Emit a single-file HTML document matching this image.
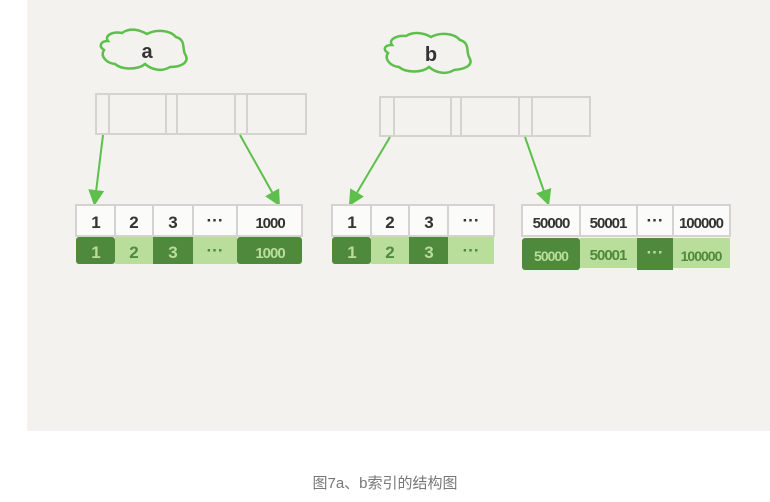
<!DOCTYPE html>
<html><head><meta charset="utf-8"><style>
body{margin:0;width:770px;height:502px;background:#fff;position:relative;overflow:hidden;font-family:"Liberation Sans","Noto Sans CJK SC",sans-serif}
.bg{position:absolute;left:27px;top:0;width:743px;height:431px;background:#f3f2ee}
.cap{position:absolute;top:472px;left:0;width:770px;text-align:center;font-size:15px;color:#777}
</style></head><body>
<div class="bg"></div>
<svg width="770" height="502" style="position:absolute;left:0;top:0" font-family="Liberation Sans, sans-serif">
<defs><marker id="ar" markerWidth="8" markerHeight="8" refX="5" refY="4" orient="auto"><path d="M0,0 L8,4 L0,8 z" fill="#5cc04a"/></marker></defs>
<path d="M108,41 C104,36 112,31 122,33 C130,27 140,30 147,34 C156,29 170,30 176,37 C186,40 182,48 185,54 C190,62 182,67 170,67 C162,72 152,70 145,64 C138,70 122,70 115,64 C106,63 100,56 104,50 C98,46 101,41 108,41 Z" fill="none" stroke="#5cc04a" stroke-width="2.5"/>
<text x="147" y="58" font-size="20" font-weight="bold" fill="#333" text-anchor="middle">a</text>
<path d="M392,45 C388,40 396,35 406,36 C414,31 424,33 431,37 C440,32 454,33 460,40 C470,43 466,51 469,57 C474,65 466,69 454,70 C446,75 436,73 429,67 C422,73 406,73 399,67 C390,66 384,59 388,53 C382,49 385,45 392,45 Z" fill="none" stroke="#5cc04a" stroke-width="2.5"/>
<text x="431" y="61" font-size="20" font-weight="bold" fill="#333" text-anchor="middle">b</text>
<g fill="none" stroke="#d4d3cf" stroke-width="2">
<rect x="96" y="94" width="210" height="40"/><path d="M109,94V134M166,94V134M177,94V134M235,94V134M247,94V134"/>
<rect x="380" y="97" width="210" height="39"/><path d="M394,97V136M451,97V136M461,97V136M519,97V136M532,97V136"/>
</g>
<g stroke="#5cc04a" stroke-width="2" marker-end="url(#ar)">
<line x1="103" y1="135" x2="95" y2="200"/>
<line x1="240" y1="135" x2="277" y2="201"/>
<line x1="390" y1="137" x2="352" y2="201"/>
<line x1="525" y1="137" x2="547" y2="200"/>
</g>
<rect x="76" y="205" width="226" height="31" fill="#fbfbfa" stroke="#d4d3cf" stroke-width="2"/>
<path d="M115,205V236M153,205V236M193,205V236M237,205V236" stroke="#d4d3cf" stroke-width="2"/>
<rect x="76" y="237" width="39" height="27" fill="#4f8a3c" rx="3"/><rect x="115" y="237" width="38" height="27" fill="#b9dd9a"/>
<rect x="153" y="237" width="40" height="27" fill="#4f8a3c"/><rect x="193" y="237" width="44" height="27" fill="#b9dd9a"/>
<rect x="237" y="237" width="65" height="27" fill="#4f8a3c" rx="3"/>
<rect x="332" y="205" width="162" height="31" fill="#fbfbfa" stroke="#d4d3cf" stroke-width="2"/>
<path d="M371,205V236M409,205V236M448,205V236" stroke="#d4d3cf" stroke-width="2"/>
<rect x="332" y="237" width="39" height="27" fill="#4f8a3c" rx="3"/><rect x="371" y="237" width="38" height="27" fill="#b9dd9a"/>
<rect x="409" y="237" width="39" height="27" fill="#4f8a3c"/><rect x="448" y="237" width="46" height="27" fill="#b9dd9a"/>
<rect x="522" y="205" width="208" height="31" fill="#fbfbfa" stroke="#d4d3cf" stroke-width="2"/>
<path d="M580,205V236M637,205V236M673,205V236" stroke="#d4d3cf" stroke-width="2"/>
<rect x="522" y="238" width="58" height="32" fill="#4f8a3c" rx="3"/><rect x="580" y="238" width="57" height="30" fill="#b9dd9a"/>
<rect x="637" y="238" width="36" height="32" fill="#4f8a3c"/><rect x="673" y="238" width="57" height="30" fill="#b9dd9a"/>
<g font-size="17" font-weight="bold" fill="#333" text-anchor="middle">
<text x="96" y="228">1</text><text x="134" y="228">2</text><text x="173" y="228">3</text><text x="215" y="226">···</text><text x="270" y="228" font-size="15" letter-spacing="-1">1000</text>
<text x="352" y="228">1</text><text x="390" y="228">2</text><text x="429" y="228">3</text><text x="471" y="226">···</text>
<text x="551" y="228" font-size="15" letter-spacing="-1">50000</text><text x="608" y="228" font-size="15" letter-spacing="-1">50001</text><text x="655" y="226">···</text><text x="701" y="228" font-size="15" letter-spacing="-1">100000</text>
</g>
<g font-size="17" font-weight="bold" text-anchor="middle">
<text x="96" y="258" fill="#b9dd9a">1</text><text x="134" y="258" fill="#4f8a3c">2</text><text x="173" y="258" fill="#b9dd9a">3</text><text x="215" y="256" fill="#4f8a3c">···</text><text x="270" y="258" font-size="15" fill="#b9dd9a" letter-spacing="-1">1000</text>
<text x="352" y="258" fill="#b9dd9a">1</text><text x="390" y="258" fill="#4f8a3c">2</text><text x="429" y="258" fill="#b9dd9a">3</text><text x="471" y="256" fill="#4f8a3c">···</text>
<text x="551" y="261" font-size="14" fill="#b9dd9a" letter-spacing="-1">50000</text><text x="608" y="260" font-size="15" fill="#4f8a3c" letter-spacing="-1">50001</text><text x="655" y="258" fill="#b9dd9a">···</text><text x="701" y="261" font-size="14" fill="#4f8a3c" letter-spacing="-1">100000</text>
</g>
</svg>
<div class="cap">图7a、b索引的结构图</div>
</body></html>
